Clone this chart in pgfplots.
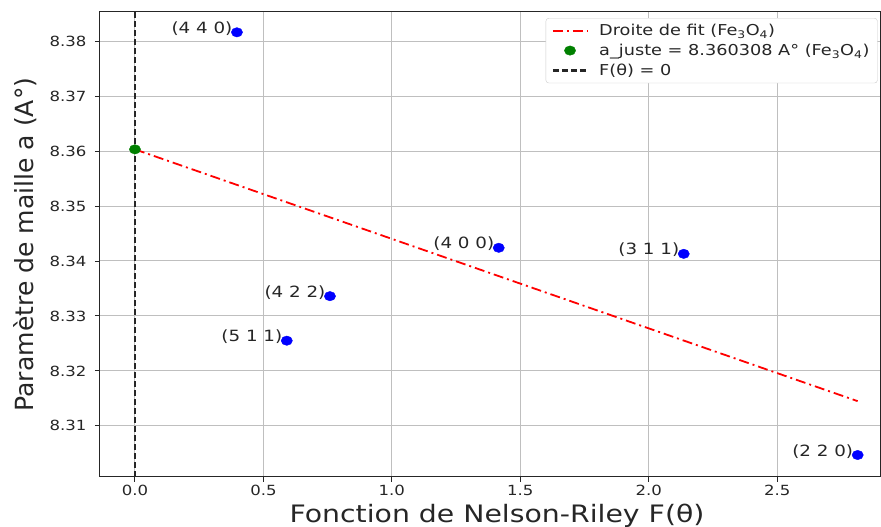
\documentclass[border=0pt]{standalone}
\usepackage{pgfplots}
\pgfplotsset{compat=1.18}
\usepackage{graphicx}
\usepackage{fontspec}
\setmainfont{DejaVu Sans}[FakeStretch=1.18]
\definecolor{mplgreen}{RGB}{0,128,0}
\definecolor{txt}{RGB}{38,38,38}
\pgfplotsset{
  lineleg/.style={legend image code/.code={\draw[##1] (0cm,0cm) -- (1.2cm,0cm);}},
  dotleg/.style={legend image code/.code={\draw[##1] plot coordinates {(0.6cm,0cm)};}},
}
\begin{document}
\begin{tikzpicture}
\useasboundingbox (0,0) rectangle (881pt,527pt);
\begin{axis}[
  at={(100pt,50pt)}, anchor=south west,
  scale only axis, width=780pt, height=465pt,
  xmin=-0.136, xmax=2.9, ymin=8.3007, ymax=8.3853,
  xtick={0,0.5,...,2.5}, ytick={8.31,8.32,...,8.38},
  grid=major, major grid style={gray!50, line width=1pt},
  axis line style={line width=1pt, black!85},
  tick align=outside, tick pos=left, major tick length=5pt,
  tick style={black!85, line width=0.9pt},
  /pgf/number format/assume math mode=true,
  ticklabel style={font=\fontsize{14}{16}\selectfont, text=txt},
  xticklabel style={/pgf/number format/.cd, fixed, precision=1, fixed zerofill},
  yticklabel style={xshift=-5pt, /pgf/number format/.cd, fixed, precision=2, fixed zerofill},
  xlabel={Fonction de Nelson-Riley F(θ)},
  ylabel={\scalebox{0.85}[1]{Paramètre de maille a (A°)}},
  label style={font=\fontsize{24}{28}\selectfont, text=txt},
  xlabel style={yshift=-1pt, xshift=7pt},
  ylabel style={font=\fontsize{25}{29}\selectfont, yshift=6pt},
  legend style={at={(0.997,0.987)}, anchor=north east, draw=gray!40, rounded corners=3pt,
    font=\fontsize{15}{17}\selectfont, text=txt, row sep=3pt, inner xsep=6pt, inner ysep=4pt,
    column sep=9pt, cells={anchor=west}},
  legend cell align=left,
  clip=false,
]
\addplot[red, line width=1.8pt, dash pattern=on 10pt off 4pt on 2pt off 4pt, lineleg]
  coordinates {(0,8.360308) (2.813,8.3145)};
\addlegendentry{Droite de fit (Fe\textsubscript{3}O\textsubscript{4})}
\addplot[only marks, mark=*, mark size=4.7pt, mplgreen, mark options={draw=mplgreen, fill=mplgreen, xscale=1.2}, dotleg]
  coordinates {(0,8.360308)};
\addlegendentry{a\_juste = 8.360308 A° (Fe\textsubscript{3}O\textsubscript{4})}
\addplot[black!85, line width=2.2pt, dash pattern=on 6pt off 3pt, lineleg]
  coordinates {(0,8.3007) (0,8.3853)};
\addlegendentry{F(θ) = 0}
\addplot[only marks, mark=*, mark size=4.7pt, blue, mark options={draw=blue, fill=blue, xscale=1.2},
  point meta=explicit symbolic, nodes near coords,
  every node near coord/.style={anchor=base east, xshift=-1pt, yshift=-1pt,
    font=\fontsize{15.5}{17}\selectfont, text=txt}]
  table[meta=lab, col sep=comma] {
x,y,lab
0.397,8.3816,(4 4 0)
0.591,8.3255,(5 1 1)
0.759,8.3336,(4 2 2)
1.416,8.3424,(4 0 0)
2.136,8.3413,(3 1 1)
2.813,8.3047,(2 2 0)
};
\end{axis}
\end{tikzpicture}
\end{document}
